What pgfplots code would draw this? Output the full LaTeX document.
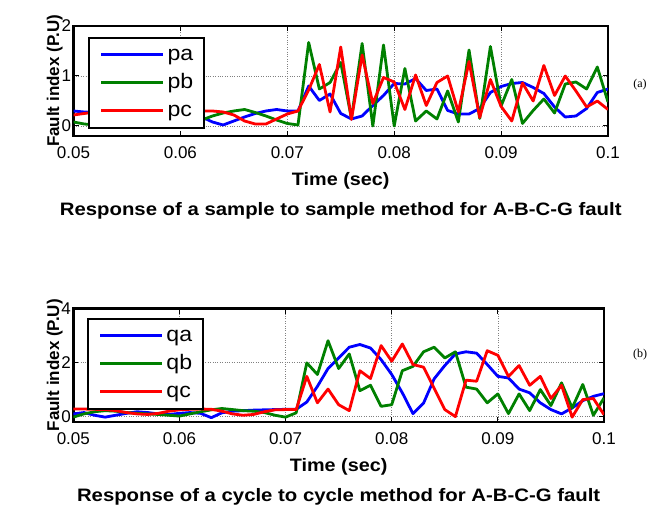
\documentclass[border=0pt]{standalone}
\usepackage{fontspec}
\setmainfont{Liberation Sans}
\newfontfamily\wide[FakeStretch=1.1]{Liberation Sans}
\newfontfamily\widet[FakeStretch=1.13]{Liberation Sans}
\newfontfamily\timesf{Liberation Serif}
\usepackage{pgfplots}
\usepackage{pgfplotstable}
\pgfplotsset{compat=1.18}

\definecolor{mblue}{rgb}{0,0,1}
\definecolor{mgreen}{rgb}{0,0.5,0}
\definecolor{mred}{rgb}{1,0,0}

\pgfplotstableread{
t pa pb pc
0.050 0.30 0.08 0.22
0.051 0.28 0.04 0.25
0.052 0.27 0.02 0.28
0.053 0.25 0.05 0.30
0.054 0.22 0.10 0.30
0.055 0.20 0.15 0.28
0.056 0.22 0.12 0.25
0.057 0.25 0.08 0.22
0.058 0.28 0.05 0.20
0.059 0.30 0.07 0.22
0.060 0.28 0.10 0.26
0.061 0.24 0.12 0.29
0.062 0.18 0.12 0.30
0.063 0.08 0.20 0.30
0.064 0.02 0.26 0.28
0.065 0.10 0.30 0.22
0.066 0.18 0.33 0.10
0.067 0.25 0.27 0.04
0.068 0.30 0.20 0.04
0.069 0.33 0.12 0.14
0.070 0.30 0.05 0.24
0.071 0.30 0.02 0.30
0.072 0.80 1.67 0.72
0.073 0.51 0.74 1.23
0.074 0.64 0.87 0.28
0.075 0.25 1.27 1.58
0.076 0.14 0.15 0.13
0.077 0.20 1.65 1.42
0.078 0.41 0.00 0.45
0.079 0.61 1.62 0.97
0.080 0.85 0.00 0.88
0.081 0.84 1.15 0.33
0.082 0.95 0.10 1.02
0.083 0.71 0.30 0.41
0.084 0.74 0.14 0.87
0.085 0.31 0.70 1.00
0.086 0.24 0.08 0.28
0.087 0.24 1.52 1.29
0.088 0.35 0.15 0.17
0.089 0.67 1.59 0.93
0.090 0.79 0.40 0.39
0.091 0.85 0.93 0.10
0.092 0.87 0.05 0.86
0.093 0.77 0.31 0.50
0.094 0.65 0.54 1.21
0.095 0.38 0.26 0.61
0.096 0.18 0.84 1.00
0.097 0.20 0.88 0.70
0.098 0.35 0.74 0.38
0.099 0.67 1.18 0.50
0.100 0.74 0.48 0.33
}\dataA

\pgfplotstableread{
t qa qb qc
0.050 0.10 -0.02 0.28
0.051 0.15 0.10 0.28
0.052 0.05 0.18 0.27
0.053 -0.02 0.22 0.26
0.054 0.05 0.20 0.22
0.055 0.12 0.15 0.15
0.056 0.18 0.12 0.10
0.057 0.15 0.10 0.08
0.058 0.10 0.08 0.12
0.059 0.08 0.05 0.20
0.060 0.12 0.02 0.25
0.061 0.15 0.10 0.27
0.062 0.12 0.18 0.28
0.063 -0.04 0.25 0.27
0.064 0.14 0.30 0.20
0.065 0.20 0.26 0.10
0.066 0.22 0.22 0.05
0.067 0.24 0.20 0.08
0.068 0.25 0.15 0.18
0.069 0.26 0.05 0.25
0.070 0.27 -0.02 0.26
0.071 0.27 0.14 0.26
0.072 0.54 1.99 1.49
0.073 1.12 1.56 0.51
0.074 1.78 2.81 1.02
0.075 2.17 1.78 0.44
0.076 2.57 2.32 0.22
0.077 2.67 0.96 1.70
0.078 2.54 1.16 1.41
0.079 2.11 0.38 2.63
0.080 1.56 0.44 2.05
0.081 0.88 1.70 2.69
0.082 0.11 1.86 1.93
0.083 0.50 2.40 1.83
0.084 1.40 2.57 1.05
0.085 1.89 2.17 0.26
0.086 2.32 2.40 0.00
0.087 2.40 1.09 1.35
0.088 2.35 1.02 1.31
0.089 1.93 0.51 2.44
0.090 1.49 0.84 2.27
0.091 1.43 0.11 1.49
0.092 1.02 0.84 1.89
0.093 0.88 0.22 1.16
0.094 0.51 1.00 1.49
0.095 0.26 0.41 0.67
0.096 0.10 1.25 1.16
0.097 0.32 0.32 -0.02
0.098 0.59 1.19 0.63
0.099 0.75 0.05 0.67
0.100 0.85 0.69 0.07
}\dataB

\pgfplotsset{
  mystyle/.style={
    scale only axis,
    anchor=south west,
    xmin=0.05, xmax=0.1,
    xtick={0.05,0.06,0.07,0.08,0.09,0.1},
    xticklabels={0.05,0.06,0.07,0.08,0.09,0.1},
    tick label style={font=\fontsize{17}{19}\selectfont},
    xticklabel style={yshift=-7pt},
    yticklabel style={xshift=1pt},
    grid=major,
    major grid style={dotted, gray, line width=0.7pt},
    axis line style={line width=2.4pt},
    tick style={black, line width=1pt},
    major tick length=5pt,
    xlabel={Time (sec)},
    ylabel={Fault index (P.U)},
    xlabel style={font=\wide\bfseries\fontsize{18}{20}\selectfont, at={(axis description cs:0.5,0)}, anchor=base, yshift=-50pt},
    ylabel style={font=\bfseries\fontsize{17}{19}\selectfont, at={(axis description cs:-0.035,0.5)}, anchor=center},
    title style={font=\widet\bfseries\fontsize{18}{20}\selectfont, at={(axis description cs:0.5,0)}, anchor=base, yshift=-85.5pt},
    legend style={
      anchor=north west,
      draw=black, line width=2pt, fill=white,
      inner xsep=11pt, inner ysep=3pt,
      font=\wide\fontsize{21}{23}\selectfont,
      row sep=0pt,
      nodes={inner sep=0pt, text height=19.7pt, text depth=8.3pt},
      /tikz/every odd column/.append style={column sep=3pt},
    },
    legend cell align=left,
    legend image code/.code={\draw[#1, line width=2.8pt] (0pt,0pt) -- (62pt,0pt);},
    every axis plot/.append style={line width=2.8pt, line join=round},
  }
}

\begin{document}
\begin{tikzpicture}[x=1pt,y=1pt]
\useasboundingbox (0,0) rectangle (664,510);

\begin{axis}[mystyle,
  at={(73.5pt,374pt)}, width=534.5pt, height=110pt,
  ymin=-0.2, ymax=2, ytick={0,1,2}, yticklabels={0,1,2},
  legend style={at={(axis description cs:0.0266,0.9027)}},
  title={Response of a sample to sample method for A-B-C-G fault}]
\addplot[mblue] table[x=t,y=pa]{\dataA};
\addplot[mgreen] table[x=t,y=pb]{\dataA};
\addplot[mred] table[x=t,y=pc]{\dataA};
\legend{pa,pb,pc}
\end{axis}

\begin{axis}[mystyle,
  at={(73.3pt,88pt)}, width=530.7pt, height=113.4pt,
  ymin=-0.2, ymax=4, ytick={0,2,4}, yticklabels={0,2,4},
  legend style={at={(axis description cs:0.0252,0.9198)}},
  title={Response of a cycle to cycle method for A-B-C-G fault}]
\addplot[mblue] table[x=t,y=qa]{\dataB};
\addplot[mgreen] table[x=t,y=qb]{\dataB};
\addplot[mred] table[x=t,y=qc]{\dataB};
\legend{qa,qb,qc}
\end{axis}

\node[font=\timesf\fontsize{12}{14}\selectfont] at (640,425) {(a)};
\node[font=\timesf\fontsize{12}{14}\selectfont] at (640,155) {(b)};
\end{tikzpicture}
\end{document}
